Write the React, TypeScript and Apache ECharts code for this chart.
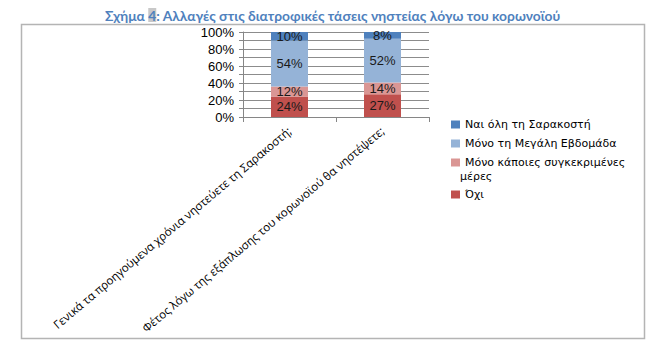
import React, { useEffect, useRef } from "react";
import * as echarts from "echarts";

const categories = [
  "Γενικά τα προηγούμενα χρόνια νηστεύετε τη Σαρακοστή;",
  "Φέτος λόγω της εξάπλωσης του κορωνοϊού θα νηστέψετε;",
];
const seriesNames = [
  "Όχι",
  "Μόνο κάποιες συγκεκριμένες μέρες",
  "Μόνο τη Μεγάλη Εβδομάδα",
  "Ναι όλη τη Σαρακοστή",
];
const ochi = [24, 27];
const someDays = [12, 14];
const holyWeek = [54, 52];
const wholeLent = [10, 8];
const yTicks = [0, 20, 40, 60, 80, 100];

const colors = ["#C0504D", "#DA9694", "#95B3D7", "#4F81BD"];

export default function App() {
  const ref = useRef<HTMLDivElement>(null);
  useEffect(() => {
    if (!ref.current) return;
    const chart = echarts.init(ref.current, undefined, { renderer: "svg" });
    const raw = [ochi, someDays, holyWeek, wholeLent];
    const totals = categories.map((_, i) => raw.reduce((s, a) => s + a[i], 0));
    const series = raw.map((arr, si) => ({
      name: seriesNames[si],
      type: "bar",
      stack: "total",
      barWidth: 37,
      itemStyle: { color: colors[si] },
      data: arr.map((v, i) => (v / totals[i]) * 100),
      label: {
        show: true,
        position: "inside",
        color: "#1a1a1a",
        fontFamily: "Liberation Sans, Arial",
        fontSize: 13,
        formatter: (p: any) => raw[si][p.dataIndex] + "%",
      },
    }));
    const legendText = {
      fontFamily: "DejaVu Sans",
      fontSize: 11,
      color: "#000",
    };
    chart.setOption({
      animation: false,
      title: {
        left: 100,
        top: 3,
        text: "{t|Σχήμα }{h|4}{t|: Αλλαγές στις διατροφικές τάσεις νηστείας λόγω του κορωνοϊού}",
        textStyle: {
          rich: {
            t: { fontFamily: "Lato", fontWeight: "bold", fontSize: 13.8, color: "#4F81BD" },
            h: {
              fontFamily: "Lato",
              fontWeight: "bold",
              fontSize: 13.8,
              color: "#4F81BD",
              backgroundColor: "#C8C8C8",
            },
          },
        },
      },
      grid: { left: 243, top: 32, width: 186, height: 85 },
      xAxis: {
        type: "category",
        data: categories,
        axisLine: { lineStyle: { color: "#868686" } },
        axisTick: { show: true, length: 5, lineStyle: { color: "#868686" } },
        axisLabel: {
          rotate: 40,
          interval: 0,
          margin: 12,
          color: "#000",
          fontFamily: "Open Sans",
          fontSize: 11.5,
        },
      },
      yAxis: {
        type: "value",
        min: 0,
        max: 100,
        interval: 10,
        axisLine: { show: true, lineStyle: { color: "#868686" } },
        axisTick: { show: true, length: 4, lineStyle: { color: "#868686" } },
        splitLine: { lineStyle: { color: "#8C8C8C" } },
        axisLabel: {
          color: "#000",
          fontFamily: "Liberation Sans, Arial",
          fontSize: 13,
          margin: 9,
          formatter: (v: number) => (yTicks.includes(v) ? v + "%" : ""),
        },
      },
      legend: [
        {
          orient: "vertical",
          left: 446,
          top: 112,
          itemWidth: 9,
          itemHeight: 8,
          itemGap: 4,
          icon: "rect",
          data: [seriesNames[3], seriesNames[2], seriesNames[1]],
          textStyle: { ...legendText, lineHeight: 15 },
          formatter: (n: string) =>
            n === seriesNames[1] ? "Μόνο κάποιες συγκεκριμένες" : n,
        },
        {
          orient: "vertical",
          left: 446,
          top: 182,
          itemWidth: 9,
          itemHeight: 8,
          icon: "rect",
          data: [seriesNames[0]],
          textStyle: { ...legendText, lineHeight: 15 },
        },
      ],
      graphic: [
        {
          type: "rect",
          shape: { x: 21.5, y: 24.5, width: 623, height: 314 },
          style: { fill: "none", stroke: "#B4B4B4", lineWidth: 1.5 },
          silent: true,
        },
        {
          type: "text",
          left: 460,
          top: 171,
          style: { text: "μέρες", fill: "#000", font: "11px DejaVu Sans" },
        },
      ],
      series,
    });
    return () => chart.dispose();
  }, []);
  return (
    <div
      ref={ref}
      style={{ position: "absolute", left: 0, top: 0, width: 664, height: 355 }}
    />
  );
}
